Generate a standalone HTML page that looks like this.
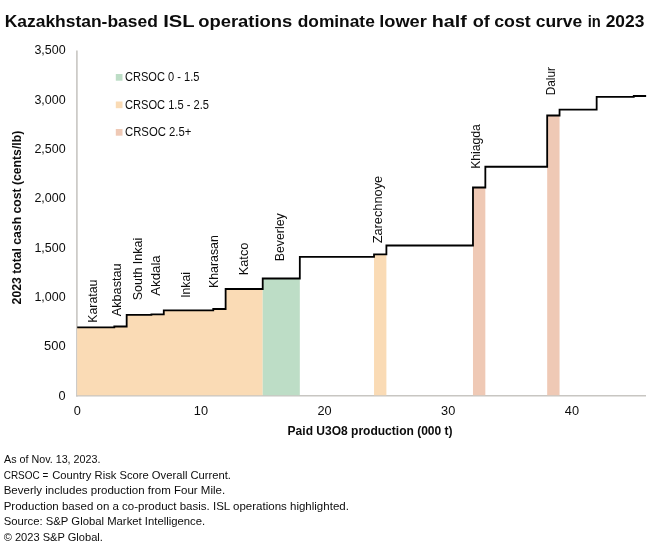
<!DOCTYPE html>
<html><head><meta charset="utf-8"><title>Cost curve</title>
<style>
html,body{margin:0;padding:0;background:#fff;}
svg{display:block;}
text{font-family:"Liberation Sans",sans-serif;fill:#0c0c0c;}
.t{font-size:12px;}
.b{font-weight:bold;}
.f{font-size:10.9px;}
</style></head><body>
<svg width="660" height="554" viewBox="0 0 660 554">
<rect width="660" height="554" fill="#fff"/>
<text class="b" y="26.6" font-size="17"><tspan x="4.7" textLength="153.1" lengthAdjust="spacingAndGlyphs">Kazakhstan-based</tspan> <tspan x="163.2" textLength="31.1" lengthAdjust="spacingAndGlyphs">ISL</tspan> <tspan x="198.2" textLength="94.1" lengthAdjust="spacingAndGlyphs">operations</tspan> <tspan x="297.7" textLength="77.1" lengthAdjust="spacingAndGlyphs">dominate</tspan> <tspan x="379.2" textLength="47.6" lengthAdjust="spacingAndGlyphs">lower</tspan> <tspan x="431.7" textLength="35.1" lengthAdjust="spacingAndGlyphs">half</tspan> <tspan x="472.7" textLength="17.1" lengthAdjust="spacingAndGlyphs">of</tspan> <tspan x="494.2" textLength="36.6" lengthAdjust="spacingAndGlyphs">cost</tspan> <tspan x="535.7" textLength="46.6" lengthAdjust="spacingAndGlyphs">curve</tspan> <tspan x="587.7" textLength="13.1" lengthAdjust="spacingAndGlyphs">in</tspan> <tspan x="605.7" textLength="38.6" lengthAdjust="spacingAndGlyphs">2023</tspan></text>
<line x1="76.9" y1="50.5" x2="76.9" y2="396.4" stroke="#c8c6c2" stroke-width="1.6"/>
<line x1="76.1" y1="395.8" x2="646" y2="395.8" stroke="#c8c6c2" stroke-width="1.6"/>
<path d="M77.20 395.20 L77.20 327.30 L114.30 327.30 L114.30 326.50 L126.67 326.50 L126.67 314.80 L151.41 314.80 L151.41 314.30 L163.78 314.30 L163.78 310.30 L213.25 310.30 L213.25 309.00 L225.62 309.00 L225.62 289.00 L262.72 289.00 L262.72 395.20 Z" fill="#fadbb5"/>
<path d="M262.72 395.20 L262.72 278.50 L299.82 278.50 L299.82 395.20 Z" fill="#bdddc6"/>
<path d="M374.03 395.20 L374.03 254.40 L386.40 254.40 L386.40 395.20 Z" fill="#fadbb5"/>
<path d="M472.98 395.20 L472.98 187.50 L485.34 187.50 L485.34 395.20 Z" fill="#efc9b5"/>
<path d="M547.18 395.20 L547.18 115.50 L559.55 115.50 L559.55 395.20 Z" fill="#efc9b5"/>
<path d="M77.20 327.30 L114.30 327.30 L114.30 326.50 L126.67 326.50 L126.67 314.80 L151.41 314.80 L151.41 314.30 L163.78 314.30 L163.78 310.30 L213.25 310.30 L213.25 309.00 L225.62 309.00 L225.62 289.00 L262.72 289.00 L262.72 278.50 L299.82 278.50 L299.82 256.80 L374.03 256.80 L374.03 254.40 L386.40 254.40 L386.40 245.50 L472.98 245.50 L472.98 187.50 L485.34 187.50 L485.34 166.75 L547.18 166.75 L547.18 115.50 L559.55 115.50 L559.55 109.60 L596.66 109.60 L596.66 96.90 L633.76 96.90 L633.76 96.00 L646.13 96.00" fill="none" stroke="#000" stroke-width="1.8" stroke-linejoin="miter"/>
<text class="t" x="65.6" y="400.0" text-anchor="end" textLength="7.1" lengthAdjust="spacingAndGlyphs">0</text>
<text class="t" x="65.6" y="350.1" text-anchor="end" textLength="21.6" lengthAdjust="spacingAndGlyphs">500</text>
<text class="t" x="65.6" y="301.0" text-anchor="end" textLength="31.2" lengthAdjust="spacingAndGlyphs">1,000</text>
<text class="t" x="65.6" y="252.0" text-anchor="end" textLength="31.2" lengthAdjust="spacingAndGlyphs">1,500</text>
<text class="t" x="65.6" y="202.1" text-anchor="end" textLength="31.2" lengthAdjust="spacingAndGlyphs">2,000</text>
<text class="t" x="65.6" y="153.1" text-anchor="end" textLength="31.2" lengthAdjust="spacingAndGlyphs">2,500</text>
<text class="t" x="65.6" y="104.1" text-anchor="end" textLength="31.2" lengthAdjust="spacingAndGlyphs">3,000</text>
<text class="t" x="65.6" y="54.1" text-anchor="end" textLength="31.2" lengthAdjust="spacingAndGlyphs">3,500</text>
<text class="t" x="77.2" y="415" text-anchor="middle" textLength="7.1" lengthAdjust="spacingAndGlyphs">0</text>
<text class="t" x="200.9" y="415" text-anchor="middle" textLength="14.2" lengthAdjust="spacingAndGlyphs">10</text>
<text class="t" x="324.6" y="415" text-anchor="middle" textLength="14.2" lengthAdjust="spacingAndGlyphs">20</text>
<text class="t" x="448.2" y="415" text-anchor="middle" textLength="14.2" lengthAdjust="spacingAndGlyphs">30</text>
<text class="t" x="571.9" y="415" text-anchor="middle" textLength="14.2" lengthAdjust="spacingAndGlyphs">40</text>
<text class="b" x="370.1" y="435" font-size="12" text-anchor="middle" textLength="165" lengthAdjust="spacingAndGlyphs">Paid U3O8 production (000 t)</text>
<text class="b" font-size="12" text-anchor="middle" transform="translate(20.9 217.6) rotate(-90)" textLength="173.6" lengthAdjust="spacingAndGlyphs">2023 total cash cost (cents/lb)</text>
<rect x="115.8" y="74.0" width="6.7" height="6.7" fill="#bdddc6"/>
<text class="t" x="125" y="81.4" textLength="74.4" lengthAdjust="spacingAndGlyphs">CRSOC 0 - 1.5</text>
<rect x="115.8" y="101.5" width="6.7" height="6.7" fill="#fadbb5"/>
<text class="t" x="125" y="108.9" textLength="83.9" lengthAdjust="spacingAndGlyphs">CRSOC 1.5 - 2.5</text>
<rect x="115.8" y="129.0" width="6.7" height="6.7" fill="#efc9b5"/>
<text class="t" x="125" y="136.4" textLength="66.4" lengthAdjust="spacingAndGlyphs">CRSOC 2.5+</text>
<text class="t" transform="translate(97.10 322.80) rotate(-90)" textLength="43.2" lengthAdjust="spacingAndGlyphs">Karatau</text>
<text class="t" transform="translate(121.00 316.30) rotate(-90)" textLength="53.0" lengthAdjust="spacingAndGlyphs">Akbastau</text>
<text class="t" transform="translate(142.10 300.30) rotate(-90)" textLength="62.5" lengthAdjust="spacingAndGlyphs">South Inkai</text>
<text class="t" transform="translate(160.35 295.80) rotate(-90)" textLength="40.5" lengthAdjust="spacingAndGlyphs">Akdala</text>
<text class="t" transform="translate(190.35 297.80) rotate(-90)" textLength="25.7" lengthAdjust="spacingAndGlyphs">Inkai</text>
<text class="t" transform="translate(218.10 288.10) rotate(-90)" textLength="53.0" lengthAdjust="spacingAndGlyphs">Kharasan</text>
<text class="t" transform="translate(247.85 275.30) rotate(-90)" textLength="32.7" lengthAdjust="spacingAndGlyphs">Katco</text>
<text class="t" transform="translate(284.10 261.30) rotate(-90)" textLength="48.0" lengthAdjust="spacingAndGlyphs">Beverley</text>
<text class="t" transform="translate(382.40 243.30) rotate(-90)" textLength="67.5" lengthAdjust="spacingAndGlyphs">Zarechnoye</text>
<text class="t" transform="translate(479.70 168.80) rotate(-90)" textLength="44.7" lengthAdjust="spacingAndGlyphs">Khiagda</text>
<text class="t" transform="translate(554.50 95.30) rotate(-90)" textLength="28.2" lengthAdjust="spacingAndGlyphs">Dalur</text>
<text class="f" x="4.0" y="463.00" textLength="96.4" lengthAdjust="spacingAndGlyphs">As of Nov. 13, 2023.</text>
<text class="f" y="479.00"><tspan x="3.7" textLength="44.6" lengthAdjust="spacingAndGlyphs">CRSOC =</tspan> <tspan x="52.2" textLength="178.8" lengthAdjust="spacingAndGlyphs">Country Risk Score Overall Current.</tspan></text>
<text class="f" x="3.7" y="494.25" textLength="221.5" lengthAdjust="spacingAndGlyphs">Beverly includes production from Four Mile.</text>
<text class="f" x="3.7" y="509.75" textLength="345.2" lengthAdjust="spacingAndGlyphs">Production based on a co-product basis. ISL operations highlighted.</text>
<text class="f" x="3.7" y="525.25" textLength="201.5" lengthAdjust="spacingAndGlyphs">Source: S&amp;P Global Market Intelligence.</text>
<text class="f" x="3.7" y="541.00" textLength="99.2" lengthAdjust="spacingAndGlyphs">© 2023 S&amp;P Global.</text>
</svg></body></html>
